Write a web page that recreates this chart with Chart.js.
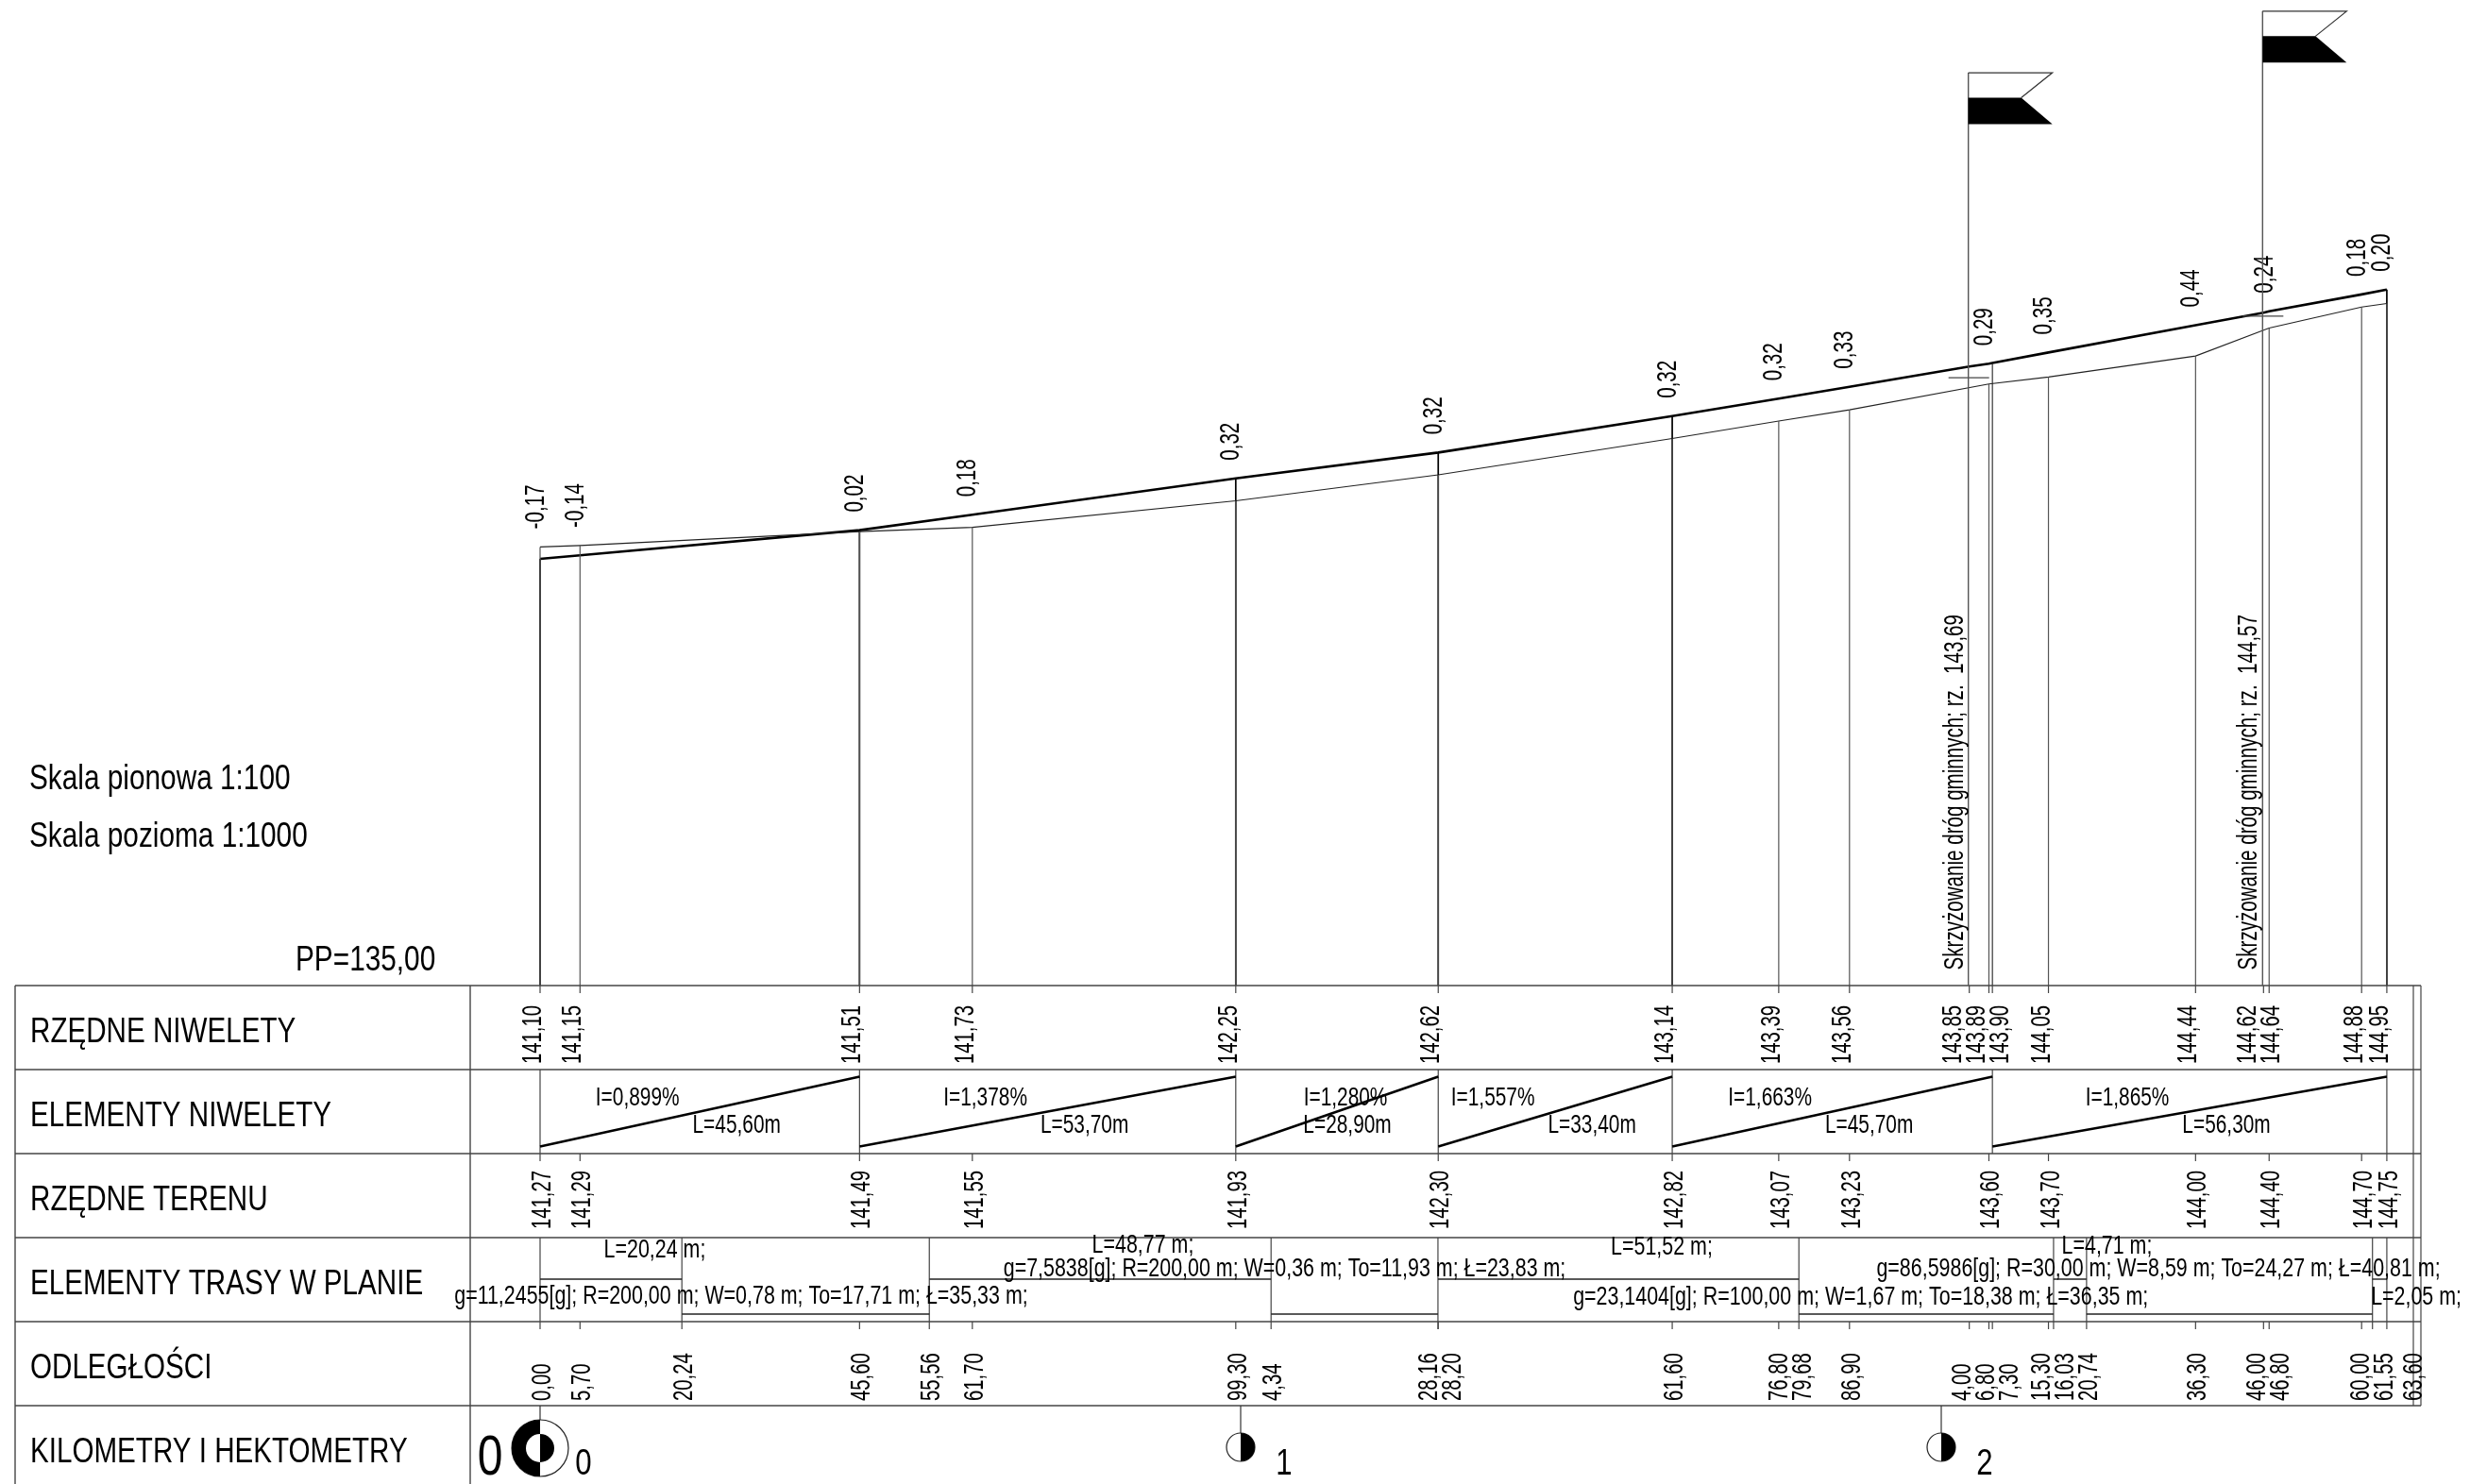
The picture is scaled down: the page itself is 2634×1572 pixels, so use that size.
<!DOCTYPE html>
<html>
<head>
<meta charset="utf-8">
<title>Profil podluzny</title>
<script src="https://cdn.jsdelivr.net/npm/chart.js@4"></script>
<style>
  html, body { margin: 0; padding: 0; background: #fff; }
  canvas { display: block; }
</style>
</head>
<body>
<canvas id="profile" width="2634" height="1572"></canvas>
<script>
// rzedne niwelety
const gradeStations = [0, 5.7, 45.6, 61.7, 99.3, 128.2, 161.6, 176.8, 186.9, 204, 206.8, 207.3, 215.3, 236.3, 246, 246.8, 260, 263.6];
const gradeValues = [141.10, 141.15, 141.51, 141.73, 142.25, 142.62, 143.14, 143.39, 143.56, 143.85, 143.89, 143.90, 144.05, 144.44, 144.62, 144.64, 144.88, 144.95];

// rzedne terenu i roznice
const terrainStations = [0, 5.7, 45.6, 61.7, 99.3, 128.2, 161.6, 176.8, 186.9, 206.8, 215.3, 236.3, 246.8, 260, 263.6];
const terrainValues = [141.27, 141.29, 141.49, 141.55, 141.93, 142.30, 142.82, 143.07, 143.23, 143.60, 143.70, 144.00, 144.40, 144.70, 144.75];
const diffValues = [-0.17, -0.14, 0.02, 0.18, 0.32, 0.32, 0.32, 0.32, 0.33, 0.29, 0.35, 0.44, 0.24, 0.18, 0.20];

// elementy niwelety
const breakStations = [0, 45.6, 99.3, 128.2, 161.6, 207.3, 263.6];
const slopeLabels = ['I=0,899%', 'I=1,378%', 'I=1,280%', 'I=1,557%', 'I=1,663%', 'I=1,865%'];
const lengthLabels = ['L=45,60m', 'L=53,70m', 'L=28,90m', 'L=33,40m', 'L=45,70m', 'L=56,30m'];

// elementy trasy w planie
const planStations = [0, 20.24, 55.56, 104.34, 128.16, 179.68, 216.03, 220.74, 261.55, 263.6];
const planLevels = [1, 0, 1, 0, 1, 0, 1, 0, 1];
const planTexts = [
  'L=20,24 m;',
  'g=11,2455[g]; R=200,00 m; W=0,78 m; To=17,71 m; Ł=35,33 m;',
  'L=48,77 m;',
  'g=7,5838[g]; R=200,00 m; W=0,36 m; To=11,93 m; Ł=23,83 m;',
  'L=51,52 m;',
  'g=23,1404[g]; R=100,00 m; W=1,67 m; To=18,38 m; Ł=36,35 m;',
  'L=4,71 m;',
  'g=86,5986[g]; R=30,00 m; W=8,59 m; To=24,27 m; Ł=40,81 m;',
  'L=2,05 m;'
];
const planTextStations = [16.37, 28.7, 86.05, 106.27, 160.1, 188.5, 223.65, 231.0, 267.8];

// odleglosci
const distanceStations = [0, 5.7, 20.24, 45.6, 55.56, 61.7, 99.3, 104.34, 128.16, 128.2, 161.6, 176.8, 179.68, 186.9, 204, 206.8, 207.3, 215.3, 216.03, 220.74, 236.3, 246, 246.8, 260, 261.55, 263.6];
const distanceLabels = ['0,00', '5,70', '20,24', '45,60', '55,56', '61,70', '99,30', '4,34', '28,16', '28,20', '61,60', '76,80', '79,68', '86,90', '4,00', '6,80', '7,30', '15,30', '16,03', '20,74', '36,30', '46,00', '46,80', '60,00', '61,55', '63,60'];

// kilometry i hektometry
const hectoStations = [0, 100, 200];
const hectoLabels = ['0', '1', '2'];

// skrzyzowania
const crossStations = [204, 246];
const crossLevels = [143.69, 144.57];
const crossLabels = ['Skrzyżowanie dróg gminnych; rz.  143,69', 'Skrzyżowanie dróg gminnych; rz.  144,57'];

const rowLabels = ['RZĘDNE NIWELETY', 'ELEMENTY NIWELETY', 'RZĘDNE TERENU', 'ELEMENTY TRASY W PLANIE', 'ODLEGŁOŚCI', 'KILOMETRY I HEKTOMETRY'];
const datum = 135;

// drawing geometry of the band table, in pixels
const rowEdges = [1044, 1133, 1222, 1311, 1400, 1489];
const tableLeft = 16, labelCol = 498, tableRight1 = 2556, tableRight2 = 2564;
const pxPerMetre = 7.42, pxPerLevel = 74.1, originX = 572;

const FONT = '"Liberation Sans", Arial, sans-serif';

function put(ctx, text, x, y, size, stretch, rotated, align) {
  ctx.save();
  ctx.translate(x, y);
  if (rotated) ctx.rotate(-Math.PI / 2);
  ctx.scale(stretch, 1);
  ctx.font = size + 'px ' + FONT;
  ctx.textAlign = align || 'left';
  ctx.textBaseline = 'alphabetic';
  ctx.fillStyle = '#000';
  ctx.fillText(text, 0, 0);
  ctx.restore();
}

function seg(ctx, x1, y1, x2, y2, width, color) {
  ctx.beginPath();
  ctx.moveTo(x1, y1);
  ctx.lineTo(x2, y2);
  ctx.lineWidth = width;
  ctx.strokeStyle = color;
  ctx.stroke();
}

// push close labels apart, keeping each group centred on its ticks
function spread(pixels, gap) {
  let groups = pixels.map(p => ({ sum: p, n: 1 }));
  let merged = true;
  while (merged) {
    merged = false;
    for (let i = 0; i < groups.length - 1; i++) {
      const a = groups[i], b = groups[i + 1];
      const aEnd = a.sum / a.n + (a.n - 1) * gap / 2;
      const bStart = b.sum / b.n - (b.n - 1) * gap / 2;
      if (bStart - aEnd < gap - 1) {
        groups.splice(i, 2, { sum: a.sum + b.sum, n: a.n + b.n });
        merged = true;
        break;
      }
    }
  }
  const out = [];
  groups.forEach(g => {
    const c = g.sum / g.n;
    for (let k = 0; k < g.n; k++) out.push(c + (k - (g.n - 1) / 2) * gap);
  });
  return out;
}

const fmt = v => v.toFixed(2).replace('.', ',');

function drawFlag(ctx, x, topY) {
  const w = 89, notch = 56, mid = 26.5, bottom = 54.5;
  ctx.beginPath();
  ctx.moveTo(x, topY);
  ctx.lineTo(x + w, topY);
  ctx.lineTo(x + notch, topY + mid);
  ctx.lineWidth = 1.2;
  ctx.strokeStyle = '#333';
  ctx.stroke();
  ctx.beginPath();
  ctx.moveTo(x, topY + mid);
  ctx.lineTo(x + notch, topY + mid);
  ctx.lineTo(x + w, topY + bottom);
  ctx.lineTo(x, topY + bottom);
  ctx.closePath();
  ctx.fillStyle = '#000';
  ctx.fill();
}

function drawHecto(ctx, x, isFirst) {
  const cy = isFirst ? 1534 : 1533;
  const big = isFirst ? 30 : 15;
  seg(ctx, x, rowEdges[5], x, cy - big, 1.2, '#333');
  ctx.lineWidth = 1.2;
  ctx.strokeStyle = '#222';
  ctx.fillStyle = '#000';
  ctx.beginPath();
  ctx.arc(x, cy, big, 0, Math.PI * 2);
  ctx.stroke();
  if (isFirst) {
    ctx.beginPath();
    ctx.arc(x, cy, big, Math.PI / 2, Math.PI * 1.5);
    ctx.closePath();
    ctx.fill();
    ctx.fillStyle = '#fff';
    ctx.beginPath();
    ctx.arc(x, cy, 15, Math.PI / 2, Math.PI * 1.5);
    ctx.closePath();
    ctx.fill();
    ctx.fillStyle = '#000';
    ctx.beginPath();
    ctx.arc(x, cy, 15, -Math.PI / 2, Math.PI / 2);
    ctx.closePath();
    ctx.fill();
  } else {
    ctx.beginPath();
    ctx.arc(x, cy, big, -Math.PI / 2, Math.PI / 2);
    ctx.closePath();
    ctx.fill();
  }
}

const bandTable = {
  id: 'bandTable',
  afterDatasetsDraw(chart) {
    const ctx = chart.ctx;
    const sx = chart.scales.x, sy = chart.scales.y;
    const px = v => sx.getPixelForValue(v);
    const py = v => sy.getPixelForValue(v);
    const lineCol = '#444';

    ctx.save();

    // table frame
    rowEdges.forEach(y => seg(ctx, tableLeft, y, tableRight2, y, 1.6, lineCol));
    seg(ctx, tableLeft, rowEdges[0], tableLeft, 1572, 1.4, lineCol);
    seg(ctx, labelCol, rowEdges[0], labelCol, 1572, 1.4, lineCol);
    seg(ctx, tableRight1, rowEdges[0], tableRight1, rowEdges[5], 1.2, lineCol);
    seg(ctx, tableRight2, rowEdges[0], tableRight2, rowEdges[5], 1.2, lineCol);

    rowLabels.forEach((t, i) => put(ctx, t, 32, rowEdges[i] + 59.5, 37, 0.8));

    put(ctx, 'Skala pionowa 1:100', 31, 836, 37, 0.805);
    put(ctx, 'Skala pozioma 1:1000', 31, 897, 37, 0.805);
    put(ctx, 'PP=' + fmt(datum), 313, 1028, 37, 0.805);

    // row 1: grade levels
    gradeStations.forEach(s => seg(ctx, px(s), rowEdges[0], px(s), rowEdges[0] + 8, 1.2, lineCol));
    spread(gradeStations.map(px), 25).forEach((x, i) => {
      put(ctx, fmt(gradeValues[i]), x + 1, 1127, 29, 0.7, true);
    });

    // row 2: grade elements
    breakStations.forEach(s => seg(ctx, px(s), rowEdges[1], px(s), rowEdges[2], 1.2, lineCol));
    slopeLabels.forEach((t, i) => {
      const x1 = px(breakStations[i]), x2 = px(breakStations[i + 1]);
      const mid = (x1 + x2) / 2;
      seg(ctx, x1, rowEdges[2] - 7.5, x2, rowEdges[1] + 7.5, 2.6, '#000');
      const short = breakStations[i + 1] - breakStations[i] < 30;
      put(ctx, t, mid + (short ? 9 : -66), 1171, 28, 0.745, false, 'center');
      put(ctx, lengthLabels[i], mid + (short ? 11 : 39), 1199.5, 28, 0.745, false, 'center');
    });

    // row 3: terrain levels
    terrainStations.forEach(s => seg(ctx, px(s), rowEdges[2], px(s), rowEdges[2] + 8, 1.2, lineCol));
    spread(terrainStations.map(px), 25).forEach((x, i) => {
      put(ctx, fmt(terrainValues[i]), x + 11, 1302, 29, 0.7, true);
    });

    // row 4: plan elements
    const levelY = [1392, 1355];
    planStations.forEach(s => seg(ctx, px(s), rowEdges[3], px(s), rowEdges[4], 1.2, lineCol));
    planLevels.forEach((lv, i) => {
      seg(ctx, px(planStations[i]), levelY[lv], px(planStations[i + 1]), levelY[lv], 1.4, '#222');
    });
    const planBase = [1332, 1381, 1327, 1352, 1329, 1382, 1328, 1352, 1382];
    planTexts.forEach((t, i) => put(ctx, t, px(planTextStations[i]), planBase[i], 28, 0.765, false, 'center'));

    // row 5: distances
    distanceStations.forEach(s => seg(ctx, px(s), rowEdges[4], px(s), rowEdges[4] + 8, 1.2, lineCol));
    const endShift = { '60,00': 9, '61,55': 9, '63,60': 15 };
    spread(distanceStations.map(px), 25).forEach((x, i) => {
      const t = distanceLabels[i];
      put(ctx, t, x + 11 + (endShift[t] || 0), 1484, 29, 0.7, true);
    });

    // row 6: kilometres and hectometres
    hectoStations.forEach((s, i) => {
      drawHecto(ctx, px(s), i === 0);
      put(ctx, hectoLabels[i], px(s) + 46, 1562, 39, 0.8, false, 'center');
    });
    put(ctx, '0', px(0) - 53, 1562, 60, 0.8, false, 'center');

    // difference labels above the profile
    terrainStations.forEach((s, i) => {
      const gi = gradeStations.indexOf(s);
      const top = Math.min(py(gradeValues[gi]), py(terrainValues[i]));
      put(ctx, fmt(diffValues[i]), px(s) + 3.5, top - 19, 29, 0.71, true);
    });

    // crossings: level mark, pole and flag
    crossStations.forEach((s, i) => {
      const y = py(crossLevels[i]);
      const x = px(s) - 1;
      seg(ctx, x - 21, y, x + 22, y, 1.2, '#444');
      seg(ctx, x, y - 323, x, py(datum), 1.4, '#555');
      drawFlag(ctx, x, y - 323);
      put(ctx, crossLabels[i], x - 6, 1027.5, 29, 0.71, true);
    });

    ctx.restore();
  }
};

// vertical drops from a profile line down to the plane of reference
function drops(stations, values) {
  const pts = [];
  stations.forEach((s, i) => {
    pts.push({ x: s, y: values[i] }, { x: s, y: datum }, { x: s, y: NaN });
  });
  return pts;
}

const toPoints = (xs, ys) => xs.map((x, i) => ({ x, y: ys[i] }));
const gradeAt = s => gradeValues[gradeStations.indexOf(s)];
const heavyBreaks = breakStations.filter(s => s !== 207.3);

new Chart(document.getElementById('profile').getContext('2d'), {
  type: 'scatter',
  data: {
    datasets: [
      {
        label: 'Rzedne terenu - rzutne',
        data: drops(terrainStations, terrainValues),
        showLine: true, spanGaps: false, borderColor: '#555', borderWidth: 1.2, pointRadius: 0
      },
      {
        label: 'Zalamania niwelety',
        data: drops(heavyBreaks, heavyBreaks.map(gradeAt)),
        showLine: true, spanGaps: false, borderColor: '#000', borderWidth: 1.7, pointRadius: 0
      },
      {
        label: 'Koniec skrzyzowania',
        data: drops([207.3], [gradeAt(207.3)]),
        showLine: true, spanGaps: false, borderColor: '#222', borderWidth: 1.1, pointRadius: 0
      },
      {
        label: 'Teren',
        data: toPoints(terrainStations, terrainValues),
        showLine: true, borderColor: '#222', borderWidth: 1.1, pointRadius: 0
      },
      {
        label: 'Niweleta',
        data: toPoints(gradeStations, gradeValues),
        showLine: true, borderColor: '#000', borderWidth: 2.6, pointRadius: 0
      }
    ]
  },
  options: {
    responsive: false,
    animation: false,
    devicePixelRatio: 1,
    layout: { padding: 0 },
    plugins: { legend: { display: false }, tooltip: { enabled: false }, title: { display: false } },
    scales: {
      x: { type: 'linear', display: false, min: -originX / pxPerMetre, max: (2634 - originX) / pxPerMetre },
      y: { type: 'linear', display: false, min: datum - (1572 - rowEdges[0]) / pxPerLevel, max: datum + rowEdges[0] / pxPerLevel }
    }
  },
  plugins: [bandTable]
});
</script>
</body>
</html>
